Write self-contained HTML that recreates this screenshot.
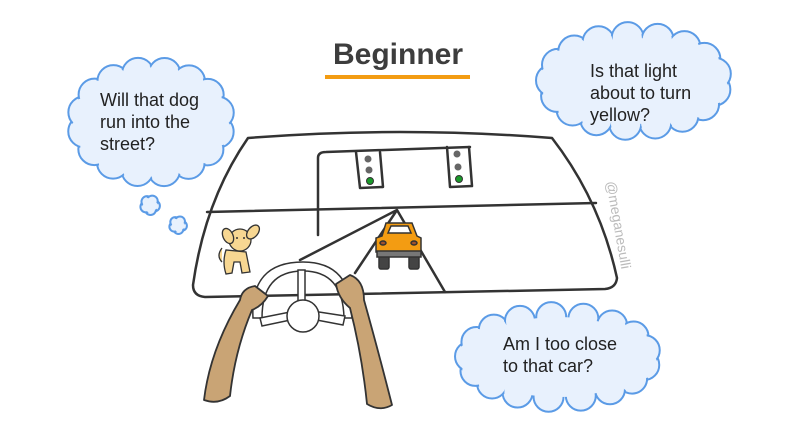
<!DOCTYPE html>
<html><head><meta charset="utf-8"><style>
html,body{margin:0;padding:0;background:#fff;width:800px;height:440px;overflow:hidden}
svg{display:block}
text{font-family:"Liberation Sans",sans-serif}
</style></head><body>
<svg id="s" width="800" height="440" viewBox="0 0 800 440" xmlns="http://www.w3.org/2000/svg">
<g id="clouds"></g>
<!-- title -->
<text x="398" y="64" text-anchor="middle" font-size="30" font-weight="bold" fill="#3d3d3d">Beginner</text>
<rect x="325" y="75" width="145" height="4" fill="#f39c12"/>
<!-- windshield -->
<g fill="none" stroke="#333" stroke-width="2.5" stroke-linecap="round" stroke-linejoin="round">
<path d="M248,138 Q400,126 552,138 Q600,200 617,278 Q616,288 605,289 L205,297 Q193,296 193,285 Q205,200 248,138 Z" fill="#fff"/>
<path d="M207,212 L596,203"/>
<path d="M318,235 L318,158 Q318,152 326,152 L470,147"/>
<path d="M356,152 L360,188 L383,187 L380,152"/>
<path d="M447,147 L450,187 L472,186 L469,147"/>
<path d="M397,210 L300,260 M397,210 L355,273 M397,210 L445,292"/>
</g>
<g fill="#666"><circle cx="368" cy="159" r="3.5"/><circle cx="369" cy="170" r="3.5"/><circle cx="457" cy="154" r="3.5"/><circle cx="458" cy="167" r="3.5"/></g>
<g fill="#1a9a2a" stroke="#333" stroke-width="1"><circle cx="370" cy="181" r="3.5"/><circle cx="459" cy="179" r="3.5"/></g>
<text transform="translate(606,182) rotate(80)" font-size="14" fill="#bbb">@meganesulli</text>
<!-- car -->
<g stroke="#333" stroke-width="1.5">
<rect x="379" y="255" width="10" height="14" rx="2" fill="#444"/>
<rect x="409" y="255" width="10" height="14" rx="2" fill="#444"/>
<path d="M382,236 L386,223 L412,223 L417,236 L421,238 L421,252 L376,252 L376,238 Z" fill="#f39c12"/>
<rect x="377" y="251" width="44" height="6" fill="#777"/>
<path d="M388,233 L391,226 L408,226 L411,233 Z" fill="#fff"/>
<ellipse cx="383" cy="243" rx="3" ry="2" fill="#a0522d"/><ellipse cx="414" cy="243" rx="3" ry="2" fill="#a0522d"/>
</g>
<!-- dog -->
<g stroke="#333" stroke-width="1.3" fill="#f7d792">
<path d="M222,248 Q216,256 222,262"/>
<path d="M226,250 Q222,262 226,274 L232,273 L234,262 L240,262 L242,273 L250,272 L246,252 Z"/>
<circle cx="240" cy="240" r="11"/>
<ellipse cx="228" cy="236" rx="5" ry="8" transform="rotate(-25 228 236)"/>
<ellipse cx="253" cy="232" rx="5" ry="8" transform="rotate(40 253 232)"/>
</g>
<circle cx="237" cy="238" r="1" fill="#333"/><circle cx="244" cy="238" r="1" fill="#333"/>
<!-- steering wheel -->
<g stroke="#333" stroke-width="1.5" fill="#fff">
<path d="M253,318 Q250,262 303,262 Q352,262 352,318 L344,318 Q343,271 303,271 Q262,271 262,318 Z"/>
<path d="M260,318 L300,310 L300,318 L262,326 Z"/>
<path d="M345,316 L306,310 L306,318 L343,325 Z"/>
<rect x="298" y="270" width="7" height="32"/>
<circle cx="303" cy="316" r="16"/>
</g>
<!-- arms -->
<g fill="#c9a475" stroke="#333" stroke-width="1.8" stroke-linejoin="round">
<path d="M204,400 Q210,350 240,300 Q242,288 255,286 L268,296 Q262,306 252,310 Q235,350 230,396 Q218,405 204,400 Z"/>
<path d="M336,284 L350,275 Q364,280 364,300 Q378,350 392,405 Q380,412 367,404 Q362,355 350,308 Q338,298 336,284 Z"/>
</g>
<!-- text -->
<g font-size="18" fill="#222">
<text x="100" y="106">Will that dog</text><text x="100" y="128">run into the</text><text x="100" y="150">street?</text>
<text x="590" y="77">Is that light</text><text x="590" y="99">about to turn</text><text x="590" y="121">yellow?</text>
<text x="503" y="350">Am I too close</text><text x="503" y="372">to that car?</text>
</g>
</svg>
<script>
(function(){
var g=document.getElementById('clouds'),out='',inn='';
function cloud(cx,cy,rx,ry,n,r){
 var pts=[];
 for(var i=0;i<n;i++){var a=i/n*Math.PI*2+0.2;pts.push([cx+Math.cos(a)*rx,cy+Math.sin(a)*ry]);}
 pts.forEach(function(p){out+='<circle cx="'+p[0]+'" cy="'+p[1]+'" r="'+r+'"/>';inn+='<circle cx="'+p[0]+'" cy="'+p[1]+'" r="'+(r-1.8)+'"/>';});
 inn+='<ellipse cx="'+cx+'" cy="'+cy+'" rx="'+rx+'" ry="'+ry+'"/>';
}
cloud(151,122,68,49,16,16);
cloud(634,81,82,43,17,16);
cloud(558,357,88,40,17,15);
[[150,205,10],[178,225,9],[510,156,9],[541,151,8],[448,252,9],[475,272,9]].forEach(function(c){cloud(c[0],c[1],c[2]*0.45,c[2]*0.45,5,c[2]*0.55);});
g.innerHTML='<g fill="#e8f1fd" stroke="#5b9be6" stroke-width="2">'+out+'</g><g fill="#e8f1fd">'+inn+'</g>';
})();
</script>
</body></html>
